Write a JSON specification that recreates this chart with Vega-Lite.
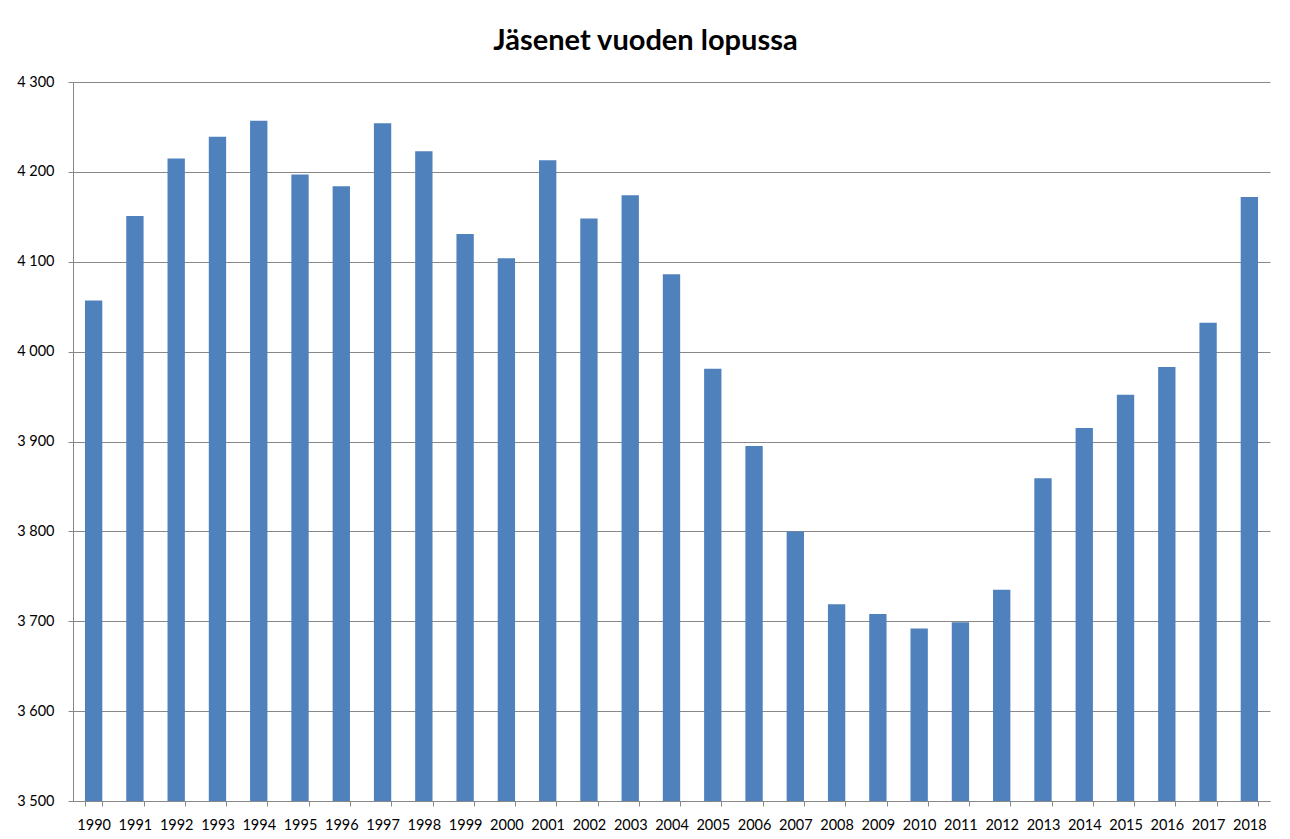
{
  "$schema": "https://vega.github.io/schema/vega-lite/v6.json",
  "autosize": {"type": "none"},
  "width": 1197,
  "height": 719,
  "padding": {"left": 73, "top": 82, "right": 20, "bottom": 38},
  "background": "white",
  "title": {
    "text": "Jäsenet vuoden lopussa",
    "font": "Lato",
    "fontSize": 29,
    "fontWeight": "bold",
    "color": "#000000",
    "anchor": "middle",
    "dx": -26,
    "offset": 18
  },
  "data": {
    "values": [
      {"vuosi": "1990", "jasenet": 4057},
      {"vuosi": "1991", "jasenet": 4151},
      {"vuosi": "1992", "jasenet": 4215},
      {"vuosi": "1993", "jasenet": 4239},
      {"vuosi": "1994", "jasenet": 4257},
      {"vuosi": "1995", "jasenet": 4197},
      {"vuosi": "1996", "jasenet": 4184},
      {"vuosi": "1997", "jasenet": 4254},
      {"vuosi": "1998", "jasenet": 4223},
      {"vuosi": "1999", "jasenet": 4131},
      {"vuosi": "2000", "jasenet": 4104},
      {"vuosi": "2001", "jasenet": 4213},
      {"vuosi": "2002", "jasenet": 4148},
      {"vuosi": "2003", "jasenet": 4174},
      {"vuosi": "2004", "jasenet": 4086},
      {"vuosi": "2005", "jasenet": 3981},
      {"vuosi": "2006", "jasenet": 3895},
      {"vuosi": "2007", "jasenet": 3800},
      {"vuosi": "2008", "jasenet": 3719},
      {"vuosi": "2009", "jasenet": 3708},
      {"vuosi": "2010", "jasenet": 3692},
      {"vuosi": "2011", "jasenet": 3699},
      {"vuosi": "2012", "jasenet": 3735},
      {"vuosi": "2013", "jasenet": 3859},
      {"vuosi": "2014", "jasenet": 3915},
      {"vuosi": "2015", "jasenet": 3952},
      {"vuosi": "2016", "jasenet": 3983},
      {"vuosi": "2017", "jasenet": 4032},
      {"vuosi": "2018", "jasenet": 4172}
    ]
  },
  "mark": {"type": "bar", "color": "#4F81BD", "clip": true},
  "encoding": {
    "x": {
      "field": "vuosi",
      "type": "ordinal",
      "scale": {"paddingInner": 0.58, "paddingOuter": 0.29},
      "axis": {
        "title": null,
        "labelAngle": 0,
        "labelFont": "Lato",
        "labelFontSize": 14.5,
        "labelColor": "#000000",
        "labelPadding": 12,
        "tickBand": "extent",
        "tickSize": 5,
        "tickColor": "#888888",
        "domainColor": "#888888",
        "grid": false
      }
    },
    "y": {
      "field": "jasenet",
      "type": "quantitative",
      "scale": {"domain": [3500, 4300], "zero": false, "nice": false},
      "axis": {
        "title": null,
        "values": [3500, 3600, 3700, 3800, 3900, 4000, 4100, 4200, 4300],
        "labelExpr": "replace(format(datum.value, ',d'), ',', ' ')",
        "labelFont": "Lato",
        "labelFontSize": 14.5,
        "labelColor": "#000000",
        "labelPadding": 14,
        "tickSize": 5,
        "tickColor": "#888888",
        "domainColor": "#888888",
        "grid": true,
        "gridColor": "#888888",
        "gridWidth": 1
      }
    }
  },
  "config": {"view": {"stroke": null}}
}
